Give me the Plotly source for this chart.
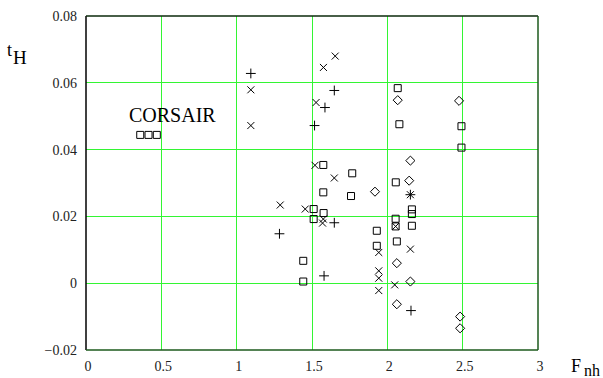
import plotly.graph_objects as go

# Data
corsair_x = [0.36, 0.415, 0.47]
corsair_y = [0.0444, 0.0444, 0.0444]

square_x = [2.069, 2.08, 2.492, 2.492, 1.575, 1.767, 1.575, 1.759, 1.511, 1.577, 1.511,
            1.442, 1.442, 2.056, 2.163, 2.163, 2.163, 1.93, 2.063, 1.93, 2.055, 2.055]
square_y = [0.0584, 0.0476, 0.0470, 0.0406, 0.0354, 0.0329, 0.0272, 0.0261, 0.0222, 0.0210, 0.0192,
            0.0067, 0.0005, 0.0302, 0.0221, 0.0207, 0.0172, 0.0157, 0.0125, 0.0112, 0.0193, 0.0170]

cross_x = [1.094, 1.094, 1.654, 1.576, 1.527, 1.52, 1.648, 1.289, 1.455, 1.57, 1.575,
           2.055, 2.153, 2.153, 1.943, 1.943, 1.943, 1.943, 2.049]
cross_y = [0.0579, 0.0472, 0.0680, 0.0646, 0.0541, 0.0353, 0.0315, 0.0234, 0.0222, 0.0180, 0.0192,
           0.0170, 0.0265, 0.0102, 0.0092, 0.0037, 0.0015, -0.0022, -0.0005]

plus_x = [1.094, 1.648, 1.586, 1.517, 1.648, 1.284, 1.58, 2.153, 2.157]
plus_y = [0.0628, 0.0577, 0.0526, 0.0472, 0.0181, 0.0148, 0.0022, 0.0265, -0.0082]

diamond_x = [2.069, 2.476, 2.153, 2.145, 1.918, 2.063, 2.153, 2.063, 2.483, 2.483]
diamond_y = [0.0548, 0.0546, 0.0367, 0.0307, 0.0274, 0.0060, 0.0005, -0.0063, -0.0100, -0.0135]

x_ticks = [0, 0.5, 1, 1.5, 2, 2.5, 3]
x_tick_text = ["0", "0.5", "1", "1.5", "2", "2.5", "3"]
y_ticks = [-0.02, 0, 0.02, 0.04, 0.06, 0.08]
y_tick_text = ["\u22120.02", "0", "0.02", "0.04", "0.06", "0.08"]

FONT = "Liberation Serif"
TICKFONT = dict(family=FONT, size=14, color="#222")

def scatter(x, y, symbol, size):
    return go.Scatter(x=x, y=y, mode="markers", showlegend=False, hoverinfo="skip",
                      marker=dict(symbol=symbol, size=size, color="black",
                                  line=dict(color="black", width=1)))

fig = go.Figure()
fig.add_trace(scatter(corsair_x, corsair_y, "square-open", 7))
fig.add_trace(scatter(square_x, square_y, "square-open", 7))
fig.add_trace(scatter(cross_x, cross_y, "x-thin-open", 7))
fig.add_trace(scatter(plus_x, plus_y, "cross-thin-open", 7))
fig.add_trace(scatter(diamond_x, diamond_y, "diamond-open", 7))

grid = "#33f533"
fig.update_layout(
    width=603, height=378,
    margin=dict(l=86, r=65, t=16, b=28, autoexpand=False),
    paper_bgcolor="white", plot_bgcolor="white",
    font=dict(family=FONT, size=14, color="#222"),
    xaxis=dict(range=[0, 3], tickvals=x_ticks, ticktext=x_tick_text, tickfont=TICKFONT,
               showgrid=True, gridcolor=grid, gridwidth=1, zeroline=False,
               showline=False, ticks="", ticklabelstandoff=6, ticklabelshift=2),
    yaxis=dict(range=[-0.02, 0.08], tickvals=y_ticks, ticktext=y_tick_text, tickfont=TICKFONT,
               showgrid=True, gridcolor=grid, gridwidth=1, zeroline=False,
               showline=False, ticks="", ticklabelstandoff=8),
)

# frame
fig.add_shape(type="line", xref="paper", yref="paper", x0=0, x1=0, y0=0, y1=1,
              line=dict(color="black", width=1.5))
fig.add_shape(type="line", xref="paper", yref="paper", x0=0, x1=1, y0=1, y1=1,
              line=dict(color="#0b2a0b", width=1.5))
fig.add_shape(type="line", xref="paper", yref="paper", x0=1, x1=1, y0=0, y1=1,
              line=dict(color="#1d5a1d", width=1.5))
fig.add_shape(type="line", xref="paper", yref="paper", x0=0, x1=1, y0=0, y1=0,
              line=dict(color="#1d5a1d", width=1.5))

# CORSAIR label
fig.add_annotation(x=0.576, y=0.0505, text="CORSAIR", showarrow=False,
                   font=dict(family=FONT, size=20, color="black"))

# axis labels
fig.add_annotation(xref="paper", yref="paper", x=-0.18, y=0.899, text="t",
                   showarrow=False, xanchor="left", yanchor="middle",
                   font=dict(family=FONT, size=18, color="black"))
fig.add_annotation(xref="paper", yref="paper", x=-0.166, y=0.876, text="H",
                   showarrow=False, xanchor="left", yanchor="middle",
                   font=dict(family=FONT, size=19, color="black"))
fig.add_annotation(xref="paper", yref="paper", x=1.068, y=-0.048, text="F",
                   showarrow=False, xanchor="left", yanchor="middle",
                   font=dict(family=FONT, size=18, color="black"))
fig.add_annotation(xref="paper", yref="paper", x=1.097, y=-0.06, text="nh",
                   showarrow=False, xanchor="left", yanchor="middle",
                   font=dict(family=FONT, size=16, color="black"))

fig.write_html("out.html", config={"displayModeBar": False},
               post_script="document.body.style.margin='0';document.body.style.overflow='hidden';")
